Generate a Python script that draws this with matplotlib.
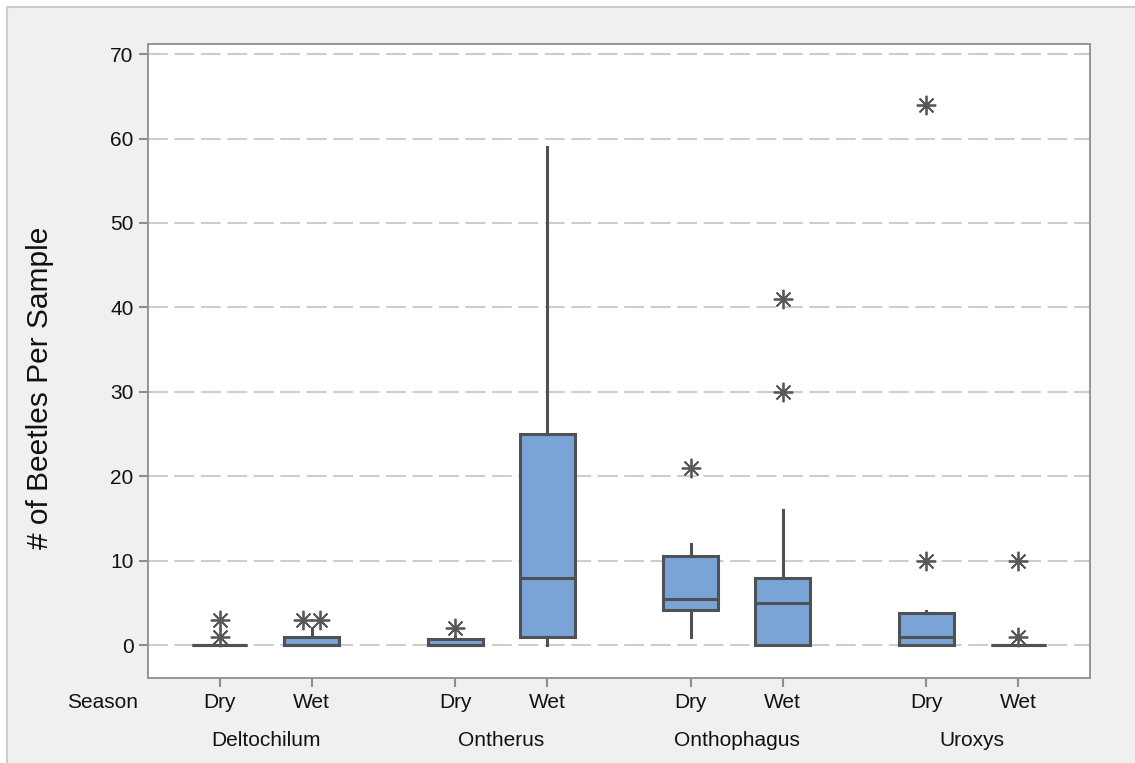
import matplotlib
matplotlib.use("Agg")
import matplotlib.pyplot as plt
from matplotlib.patches import Rectangle
from matplotlib.lines import Line2D

plt.rcParams['font.family'] = ['Liberation Sans', 'DejaVu Sans']

# Beetle counts per sample, summarised per genus and season
genera = ['Deltochilum', 'Ontherus', 'Onthophagus', 'Uroxys']
seasons = ['Dry', 'Wet']

# one entry per box, ordered genus by genus, Dry then Wet
whisker_low = [0, 0, 0, 0, 1, 0, 0, 0]
q1 = [0, 0, 0, 1, 4.2, 0, 0, 0]
median = [0, 0, 0, 8, 5.5, 5, 1, 0]
q3 = [0, 1, 0.75, 25, 10.5, 8, 3.75, 0]
whisker_high = [0, 2, 1, 59, 12, 16, 4, 0]
outliers = [[1, 3], [3, 3], [2], [], [21], [30, 41], [10, 64], [1, 10]]

BOX_FILL = '#7aa3d6'
BOX_EDGE = '#4f5254'
STAR = '#565859'
GRID = '#cdcdcd'
SPINE = '#8e8e8e'
PANEL = '#f0f0f0'
TEXT = '#111111'

fig = plt.figure(figsize=(11.35, 7.63), dpi=100)
fig.patch.set_facecolor('white')
fig.patches.append(Rectangle((7 / 1135, -0.05), 1.05, 1.05 - 7 / 763,
                             transform=fig.transFigure, facecolor=PANEL,
                             edgecolor='#cccccc', linewidth=1.5, zorder=-10))

ax = fig.add_axes([148 / 1135, 1 - 678 / 763, 942 / 1135, 634 / 763])
ax.set_facecolor('white')

group_gap = 2.56
positions = [g * group_gap + s for g in range(len(genera)) for s in range(len(seasons))]

stats = []
for i in range(len(positions)):
    stats.append(dict(whislo=whisker_low[i], q1=q1[i], med=median[i],
                      q3=q3[i], whishi=whisker_high[i], fliers=[]))

ax.bxp(stats, positions=positions, widths=0.6, patch_artist=True,
       showfliers=False, showcaps=False,
       boxprops=dict(facecolor=BOX_FILL, edgecolor=BOX_EDGE, linewidth=2.2),
       medianprops=dict(color=BOX_EDGE, linewidth=2.2, solid_capstyle='butt'),
       whiskerprops=dict(color=BOX_EDGE, linewidth=2.2),
       zorder=3)

# outliers as asterisks; repeated values are set side by side
for pos, vals in zip(positions, outliers):
    for v in sorted(set(vals)):
        n = vals.count(v)
        for k in range(n):
            dx = (k - (n - 1) / 2) * 0.18
            ax.plot(pos + dx, v, linestyle='none', marker=(8, 2, 0),
                    markersize=14, markeredgewidth=1.3,
                    markeredgecolor=STAR, color=STAR, zorder=4)

ax.set_xlim(-0.78, 3 * group_gap + 1 + 0.78)
ax.set_ylim(-3.9, 71.2)
ax.set_yticks(range(0, 71, 10))
ax.set_xticks(positions)
ax.set_xticklabels(seasons * len(genera))

for y in range(0, 71, 10):
    ax.add_line(Line2D([0, 1], [y, y], transform=ax.get_yaxis_transform(),
                       color=GRID, linewidth=1.5, dashes=(9.5, 3.2), zorder=1))

for side in ['left', 'right', 'top', 'bottom']:
    ax.spines[side].set_color(SPINE)
    ax.spines[side].set_linewidth(1.3)

ax.tick_params(axis='both', direction='out', length=6.5, width=1.5,
               color=SPINE, labelsize=15, labelcolor=TEXT, pad=4)

ax.set_ylabel('# of Beetles Per Sample', fontsize=21.5, color=TEXT)
ax.yaxis.set_label_coords(-0.1, 0.457)

ax.text(-0.048, -0.039, 'Season', transform=ax.transAxes, ha='center',
        va='center', fontsize=15, color=TEXT)
for g, name in enumerate(genera):
    xc = g * group_gap + 0.5
    ax.text(xc, -0.098, name, transform=ax.get_xaxis_transform(),
            ha='center', va='center', fontsize=15, color=TEXT)

fig.savefig('out.png', dpi=100, facecolor=fig.get_facecolor())
